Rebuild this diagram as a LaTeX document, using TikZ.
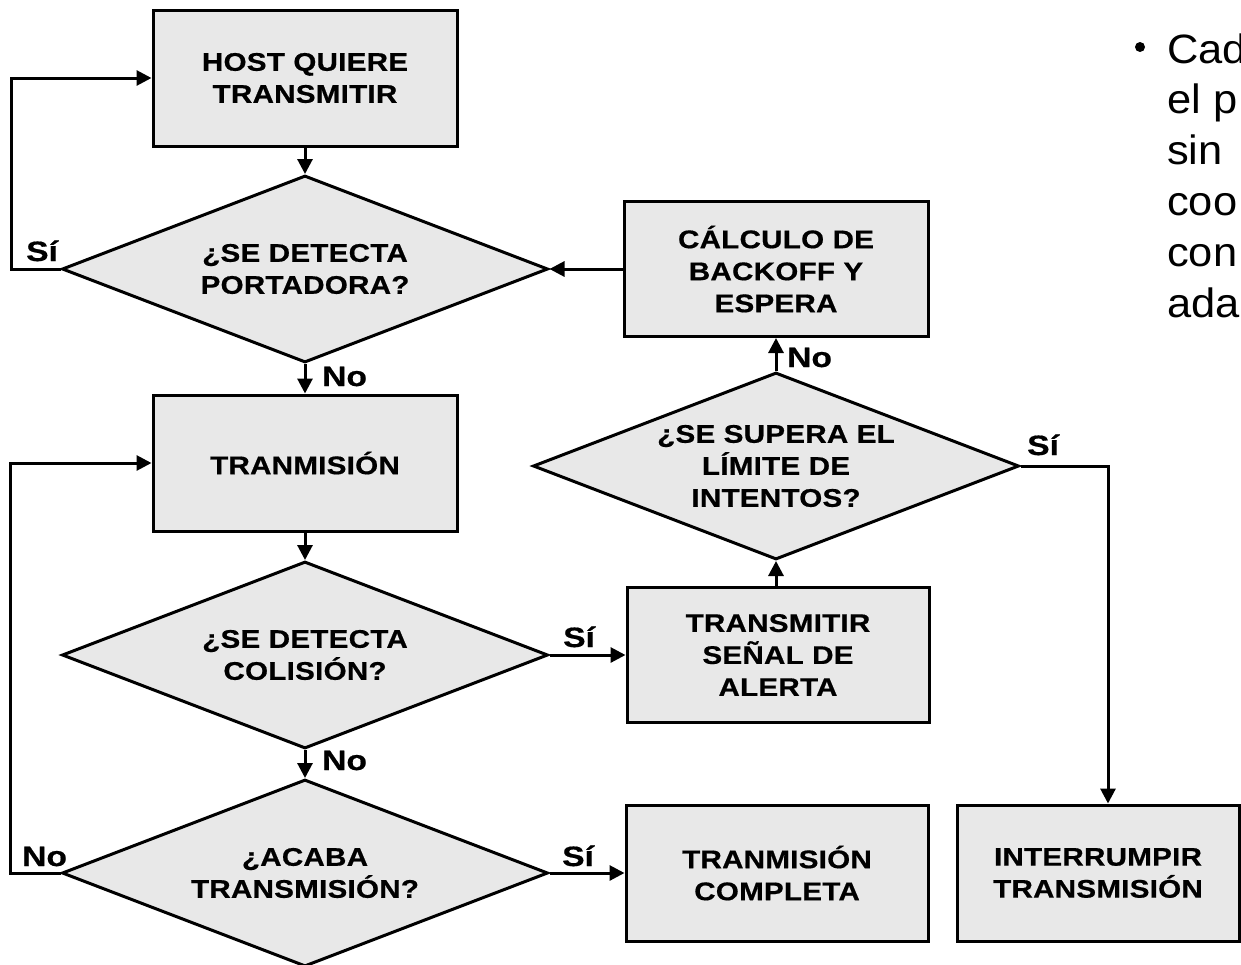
\documentclass[tikz,border=0pt]{standalone}
\usepackage{fontspec}
\setmainfont{Liberation Sans}
\newfontfamily\chartfont[FakeStretch=1.16,LetterSpace=1,FakeBold=0.6]{Liberation Sans}
\newfontfamily\labelfont[FakeStretch=1.2,FakeBold=0.6]{Liberation Sans}
\newfontfamily\bodyfont[FakeStretch=1.06]{Liberation Sans}
\usetikzlibrary{arrows.meta,shapes.geometric}
\definecolor{boxfill}{RGB}{232,232,232}
\begin{document}
\begin{tikzpicture}[x=1pt,y=-1pt,
  stepbox/.style={draw=black, line width=3pt, fill=boxfill, rectangle,
    inner sep=0pt, align=center,
    font={\chartfont\bfseries\fontsize{25.5}{32}\selectfont}},
  decision/.style={draw=black, line width=3pt, fill=boxfill, diamond,
    aspect=2.6, inner sep=0pt, minimum width=486pt, minimum height=187pt,
    align=center, font={\chartfont\bfseries\fontsize{25.5}{32}\selectfont}},
  conn/.style={line width=3pt, -{Triangle[length=15pt,width=15pt]}},
  lbl/.style={inner sep=0pt, anchor=base west,
    font={\labelfont\bfseries\fontsize{28}{32}\selectfont}},
  bodytext/.style={inner sep=0pt, anchor=base west,
    font={\bodyfont\fontsize{41}{51}\selectfont}}]
\useasboundingbox (0,0) rectangle (1241,964);
\clip (0,0) rectangle (1241,964);

% process boxes
\node[stepbox, minimum width=304pt, minimum height=136pt] (host) at (305,78)
  {HOST QUIERE\\TRANSMITIR};
\node[stepbox, minimum width=304pt, minimum height=136pt] (tx) at (305,463)
  {TRANMISIÓN};
\node[stepbox, minimum width=304pt, minimum height=135pt] (backoff) at (776,269)
  {CÁLCULO DE\\BACKOFF Y\\ESPERA};
\node[stepbox, minimum width=302pt, minimum height=135pt] (jam) at (778,655)
  {TRANSMITIR\\SEÑAL DE\\ALERTA};
\node[stepbox, minimum width=302pt, minimum height=136pt] (done) at (777,873)
  {TRANMISIÓN\\COMPLETA};
\node[stepbox, minimum width=282pt, minimum height=136pt] (abort) at (1098,873)
  {INTERRUMPIR\\TRANSMISIÓN};

% decisions
\node[decision] (carrier) at (305,269) {¿SE DETECTA\\PORTADORA?};
\node[decision] (limit) at (776,466) {¿SE SUPERA EL\\LÍMITE DE\\INTENTOS?};
\node[decision] (collision) at (305,655) {¿SE DETECTA\\COLISIÓN?};
\node[decision] (finished) at (305,873) {¿ACABA\\TRANSMISIÓN?};

% connectors
\draw[conn] (host.south) -- (carrier.north);
\draw[conn] (carrier.west) -- ++(-49,0) |- (host.west);
\draw[conn] (carrier.south) -- (tx.north);
\draw[conn] (backoff.west) -- (carrier.east);
\draw[conn] (tx.south) -- (collision.north);
\draw[conn] (collision.east) -- (jam.west);
\draw[conn] (limit.south |- jam.north) -- (limit.south);
\draw[conn] (limit.north) -- (backoff.south);
\draw[conn] (limit.east) -| ([xshift=10pt]abort.north);
\draw[conn] (collision.south) -- (finished.north);
\draw[conn] (finished.east) -- (done.west);
\draw[conn] (finished.west) -- ++(-50,0) |- (tx.west);

% branch labels
\node[lbl] (carrieryes) at (26,261) {Sí};
\node[lbl] (carrierno) at (322,386) {No};
\node[lbl] (limitno) at (787,367) {No};
\node[lbl] (limityes) at (1027,455) {Sí};
\node[lbl] (collisionyes) at (563,647) {Sí};
\node[lbl] (collisionno) at (322,770) {No};
\node[lbl] (finishedyes) at (562,866) {Sí};
\node[lbl] (finishedno) at (22,866) {No};

% bullet text at the right edge
\node[circle, fill=black, minimum size=10pt, inner sep=0pt] (bullet) at (1140,47) {};
\node[bodytext] (line1) at (1167,63) {Cad};
\node[bodytext] (line2) at (1167,113) {el p};
\node[bodytext] (line3) at (1167,164) {sin};
\node[bodytext] (line4) at (1167,215) {coo};
\node[bodytext] (line5) at (1167,266) {con};
\node[bodytext] (line6) at (1167,317) {ada};
\end{tikzpicture}
\end{document}
